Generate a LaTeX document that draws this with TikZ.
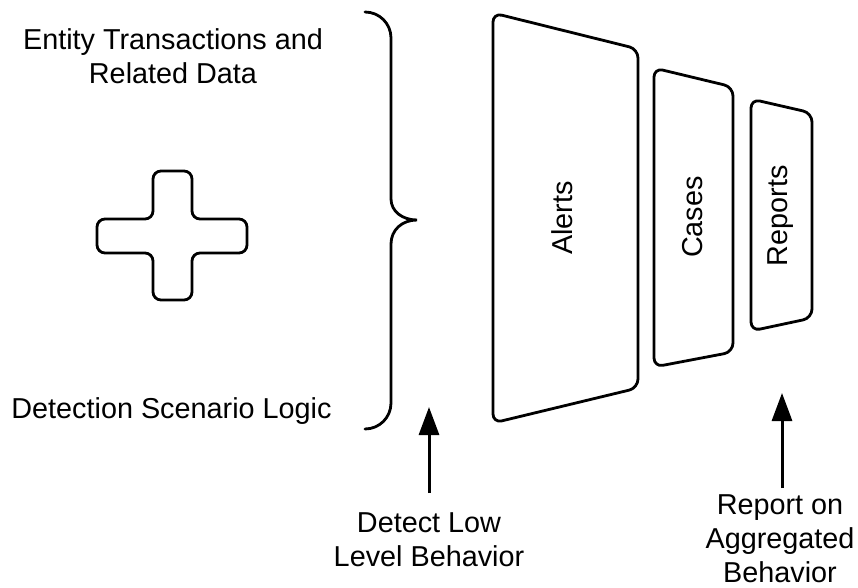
\documentclass[tikz,border=0pt]{standalone}
\usepackage{fontspec}
\setmainfont{Liberation Sans}
\usetikzlibrary{arrows.meta}
\begin{document}
\begin{tikzpicture}[x=1pt,y=-1pt,
  outline/.style={line width=2.8pt, line join=round, rounded corners=9pt},
  txt/.style={font=\fontsize{28.8}{34}\selectfont, align=center, inner sep=0pt},
  pointer/.style={line width=3pt, -{Triangle[length=28pt,width=20pt]}}]
\useasboundingbox (0,0) rectangle (858,588);

% input side
\node[txt, anchor=north] (entity) at (173,28) {Entity Transactions and\\Related Data};
\node[txt, anchor=base] (logic) at (171.5,418) {Detection Scenario Logic};

% plus sign
\draw[outline, rounded corners=8pt]
  (153,171) -- (192,171) -- (192,219) -- (247,219) -- (247,253) -- (192,253)
  -- (192,300) -- (153,300) -- (153,253) -- (97,253) -- (97,219) -- (153,219) -- cycle;

% curly brace
\draw[line width=2.8pt, line cap=round]
  (365,12) .. controls (379.4,12) and (391,23.6) .. (391,38)
  -- (391,199) .. controls (391,211) and (402,220) .. (417,220)
  .. controls (402,220) and (391,230) .. (391,244)
  -- (391,403) .. controls (391,417.4) and (379.4,429) .. (365,429);

% funnel stages
\draw[outline] (493,13) -- (638,49) -- (638,388) -- (493,423) -- cycle;
\draw[outline] (654,68) -- (733,87) -- (733,352) -- (654,367) -- cycle;
\draw[outline] (751,99) -- (812,113) -- (812,318) -- (751,331) -- cycle;
\node[txt, rotate=90] (alerts) at (562,218) {Alerts};
\node[txt, rotate=90] (cases) at (692.5,217) {Cases};
\node[txt, rotate=90] (reports) at (781,216) {Reports};

% annotations
\node[txt, anchor=north] (low) at (429,512) {Detect Low\\Level Behavior};
\node[txt, anchor=north] (agg) at (780,494) {Report on\\Aggregated\\Behavior};
\coordinate (lowtail) at (429,493);
\coordinate (lowtip) at (429,407);
\coordinate (aggtail) at (782,488);
\coordinate (aggtip) at (782,393);
\draw[pointer] (lowtail) -- (lowtip);
\draw[pointer] (aggtail) -- (aggtip);
\end{tikzpicture}
\end{document}
